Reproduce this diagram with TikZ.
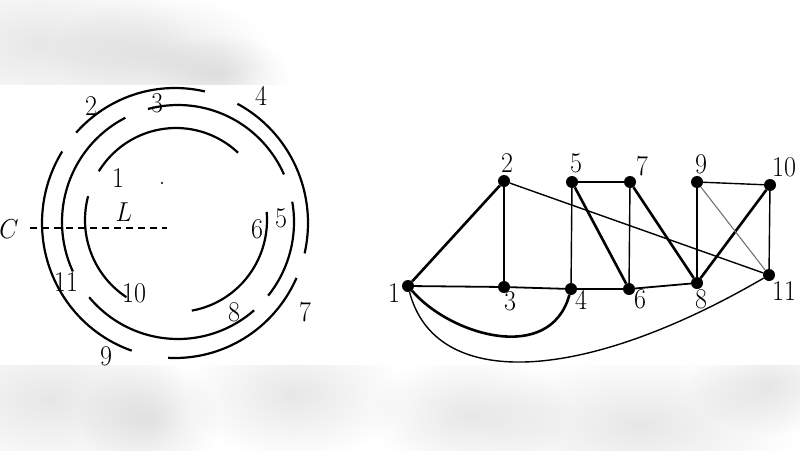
\documentclass[tikz,border=0pt]{standalone}
\usetikzlibrary{calc}
\newcommand{\myarc}[6]{\draw[strand] plot[domain=#5:#6, samples=50, variable=\t] ({#1+#3*cos(\t)},{#2-#4*sin(\t)});}
\newcommand{\myblob}[4]{\foreach \k in {1,...,24}{\fill[black, opacity=0.0055] (#1,#2) ellipse ({#3*\k/24} and {#4*\k/24});}}
\tikzset{
  strand/.style={line width=2.2pt, line cap=butt},
  lab/.style={inner sep=0pt, font=\fontsize{26}{30}\selectfont, yscale=1.1},
  vtx/.style={circle, fill=black, inner sep=0pt, minimum size=12pt},
  thinedge/.style={line width=1.4pt},
  midedge/.style={line width=1.8pt},
  thickedge/.style={line width=2.6pt},
}
\begin{document}
\begin{tikzpicture}[x=1pt,y=-1pt]
\useasboundingbox (0,0) rectangle (800,450);
% blurred background bands
\begin{scope}
\clip (0,0) rectangle (800,84);
\myblob{40}{45}{150}{80}
\myblob{160}{55}{110}{60}
\myblob{220}{75}{70}{40}
\end{scope}
\begin{scope}
\clip (0,365) rectangle (800,450);
\myblob{50}{400}{140}{80}
\myblob{150}{420}{70}{60}
\myblob{295}{395}{110}{65}
\myblob{470}{415}{100}{60}
\myblob{640}{425}{160}{70}
\myblob{770}{385}{80}{50}
\end{scope}

% ---- left figure: three rings of strands ----
% outer ring
\myarc{175}{223}{133}{135}{77}{138}
\myarc{175}{223}{133}{135}{-13}{62}
\myarc{175}{223}{133}{135}{-93}{-24}
\myarc{175}{223}{133}{135}{148}{251}
% middle ring
\myarc{178}{222}{116}{117}{117}{205}
\myarc{178}{222}{116}{117}{24}{105}
\myarc{178}{222}{116}{117}{-39}{10}
\myarc{178}{222}{116}{117}{220}{311}
% inner ring
\myarc{176}{220}{91}{92}{47}{148}
\myarc{176}{220}{91}{92}{165}{237}
\myarc{176}{220}{91}{92}{-80}{5}

\coordinate (dashA) at (30,228);
\coordinate (dashB) at (167,228);
\draw[line width=1.1pt, dash pattern=on 7pt off 5pt] (dashA) -- (dashB);
\fill (162,183) circle (1.2pt);

\node[lab] (lC) at (9,229) {$C$};
\node[lab] (lL) at (124,212) {$L$};
\node[lab] (a1) at (118,178) {1};
\node[lab] (a2) at (91,106) {2};
\node[lab] (a3) at (157,103) {3};
\node[lab] (a4) at (261,96) {4};
\node[lab] (a5) at (281,218) {5};
\node[lab] (a6) at (257,229) {6};
\node[lab] (a7) at (305,312) {7};
\node[lab] (a8) at (234,312) {8};
\node[lab] (a9) at (106,356) {9};
\node[lab] (a10) at (134,293) {10};
\node[lab] (a11) at (66,282) {11};

% ---- right figure: graph ----
\node[vtx] (v1) at (408,286) {};
\node[vtx] (v2) at (504,181) {};
\node[vtx] (v3) at (504,287) {};
\node[vtx] (v4) at (571,289) {};
\node[vtx] (v5) at (572,182) {};
\node[vtx] (v6) at (629,289) {};
\node[vtx] (v7) at (630,182) {};
\node[vtx] (v8) at (697,283) {};
\node[vtx] (v9) at (697,182) {};
\node[vtx] (v10) at (770,185) {};
\node[vtx] (v11) at (769,275) {};

\draw[thickedge] (v1) -- (v2);
\draw[thinedge] (v2) -- (v3);
\draw[midedge] (v1) -- (v3) -- (v4) -- (v6) -- (v8);
\draw[thinedge] (v2) -- (v11);
\draw[thinedge] (v4) -- (v5);
\draw[thinedge] (v5) -- (v7);
\draw[thinedge] (v7) -- (v6);
\draw[thickedge] (v5) -- (v6);
\draw[thickedge] (v7) -- (v8);
\draw[thickedge] (v10) -- (v8);
\draw[thinedge] (v9) -- (v10);
\draw[thinedge] (v9) -- (v8);
\draw[thinedge] (v10) -- (v11);
\draw[line width=1.1pt, black!55] (v9) -- (v11);
\draw[thickedge] (v1) .. controls (450,335) and (550,365) .. (v4);
\draw[thinedge] (v1) .. controls (435,390) and (580,385) .. (v11);

\node[lab] (b1) at (394,293) {1};
\node[lab] (b2) at (507,163) {2};
\node[lab] (b3) at (510,301) {3};
\node[lab] (b4) at (581,300) {4};
\node[lab] (b5) at (576,163) {5};
\node[lab] (b6) at (640,299) {6};
\node[lab] (b7) at (642,166) {7};
\node[lab] (b8) at (701,299) {8};
\node[lab] (b9) at (701,164) {9};
\node[lab] (b10) at (784,167) {10};
\node[lab] (b11) at (784,291) {11};
\end{tikzpicture}
\end{document}
